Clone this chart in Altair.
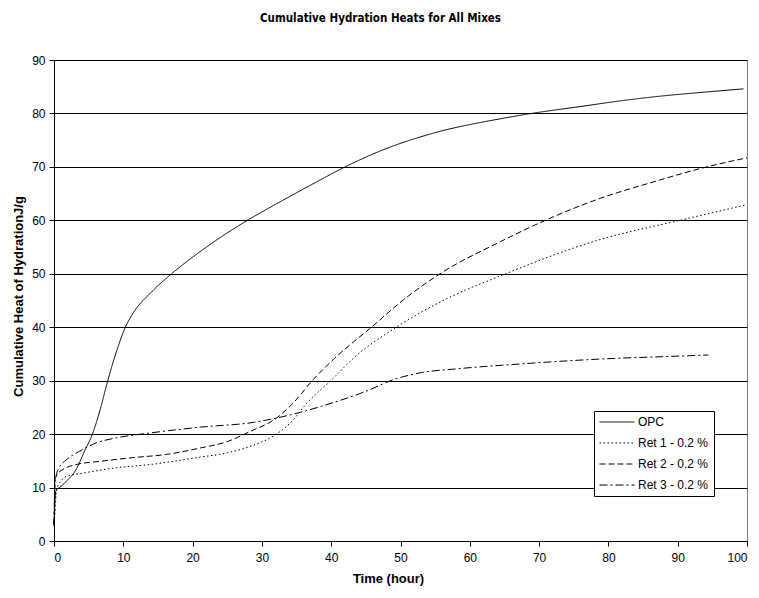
import altair as alt
import pandas as pd

# ---- data ----
opc_t = [0, 0.25, 0.5, 1, 1.8, 3.2, 4.4, 5.6, 6.6, 7.8, 9.1, 10.3, 11.5, 14, 16.6,
         20.2, 23.1, 27.4, 33.1, 37.9, 41.7, 47.5, 54.7, 64.4, 69.4, 76, 82, 88, 94, 99.5]
opc_v = [2.8, 9.3, 9.7, 10.2, 11.2, 13.4, 16.8, 20.2, 24.3, 30.2, 35.8, 40, 42.8, 46.5, 49.6,
         53.3, 56.0, 59.6, 63.8, 67.2, 69.8, 73.2, 76.3, 79.0, 80.1, 81.3, 82.4, 83.3, 84.0, 84.6]

ret1_t = [0, 0.15, 0.35, 1, 1.8, 4.2, 9, 13.8, 21.1, 25, 28.3, 31.6, 34.1, 36.7, 40.1,
          43.2, 49.4, 57.1, 64.4, 78.8, 90.3, 99.9]
ret1_v = [3.5, 5.3, 9.6, 11.2, 12.1, 12.7, 13.7, 14.3, 15.7, 16.5, 17.7, 19.6, 22.1, 26.1, 30.2,
          34.2, 40, 45.6, 49.6, 56.4, 60, 62.9]

ret2_t = [0, 0.15, 0.5, 1.3, 3.2, 6.6, 11.4, 16.2, 21.1, 25, 28.3, 32.1, 34.5, 37.4, 40.5,
          45.8, 50.4, 55.7, 64.4, 70.9, 78.8, 86, 94.2, 100]
ret2_v = [3, 11.5, 12.5, 13.4, 14.3, 14.9, 15.6, 16.2, 17.4, 18.6, 20.5, 23, 25.8, 30.2, 34.2,
          40, 45.1, 50, 56, 60, 64.1, 67, 70, 71.7]

ret3_t = [0, 0.15, 0.6, 1.8, 3.7, 6.2, 9, 13.8, 21.1, 28.8, 34.1, 40.3, 45, 49, 53, 58,
          67, 79.7, 88, 94.4]
ret3_v = [3, 10.9, 13.4, 15.2, 16.8, 18.4, 19.3, 20.2, 21.3, 22.2, 23.6, 25.9, 28, 30.2, 31.5, 32.2,
          33.1, 34.1, 34.5, 34.8]

series_names = ["OPC", "Ret 1 - 0.2 %", "Ret 2 - 0.2 %", "Ret 3 - 0.2 %"]
series_t = [opc_t, ret1_t, ret2_t, ret3_t]
series_v = [opc_v, ret1_v, ret2_v, ret3_v]

x_ticks = list(range(0, 101, 10))
y_ticks = list(range(0, 91, 10))

rows = []
for name, ts, vs in zip(series_names, series_t, series_v):
    for i, (t, v) in enumerate(zip(ts, vs)):
        rows.append({"series": name, "time": t, "heat": v, "order": i})
df = pd.DataFrame(rows)

FONT = "Liberation Sans"

lines = alt.Chart(df).mark_line(interpolate="monotone", color="black").encode(
    x=alt.X("time:Q",
            scale=alt.Scale(domain=[0, 100], nice=False),
            axis=alt.Axis(values=x_ticks, title="Time (hour)", grid=False,
                          tickSize=5, labelPadding=6, domainColor="black", tickColor="black",
                          titleX=334, titleY=37, titleBaseline="middle")),
    y=alt.Y("heat:Q",
            scale=alt.Scale(domain=[0, 90], nice=False),
            axis=alt.Axis(values=y_ticks, title="Cumulative Heat of HydrationJ/g",
                          grid=True, gridColor="black", gridOpacity=1, gridWidth=1,
                          tickSize=5, labelPadding=4, domainColor="black", tickColor="black",
                          titleX=-36, titleY=236, titleBaseline="middle", titleAngle=-90)),
    strokeDash=alt.StrokeDash("series:N",
                              scale=alt.Scale(domain=series_names,
                                              range=[[1, 0], [1.5, 2.5], [6, 3], [8, 3, 2, 3]]),
                              legend=alt.Legend(title=None)),
    strokeWidth=alt.StrokeWidth("series:N",
                                scale=alt.Scale(domain=series_names, range=[1, 1, 1, 1.8]),
                                legend=alt.Legend(title=None)),
    order="order:Q",
)

chart = lines.properties(
    width=693,
    height=481,
    autosize=alt.AutoSizeParams(type="none"),
    padding={"left": 46, "top": 52, "right": 4, "bottom": 50},
    title=alt.TitleParams("Cumulative Hydration Heats for All Mixes", anchor="middle",
                          dx=-20, offset=30,
                          font="'DejaVu Sans Condensed', 'Liberation Sans Narrow', 'Liberation Sans', sans-serif",
                          fontSize=11.5, fontWeight="bold", color="black"),
).configure_view(
    stroke="#808080", strokeWidth=1
).configure_axis(
    labelFont=FONT, labelFontSize=12, labelColor="black",
    titleFont=FONT, titleFontSize=13, titleFontWeight="bold", titleColor="black",
).configure_legend(
    orient="none", legendX=540, legendY=351,
    strokeColor="black", fillColor="white", padding=5,
    symbolType="stroke", symbolSize=1225, symbolStrokeColor="black",
    labelFont=FONT, labelFontSize=12, labelColor="black", labelOffset=3,
    rowPadding=9, clipHeight=12, symbolOpacity=1,
)

chart.save("out.html", embed_options={"renderer": "svg", "actions": False})
